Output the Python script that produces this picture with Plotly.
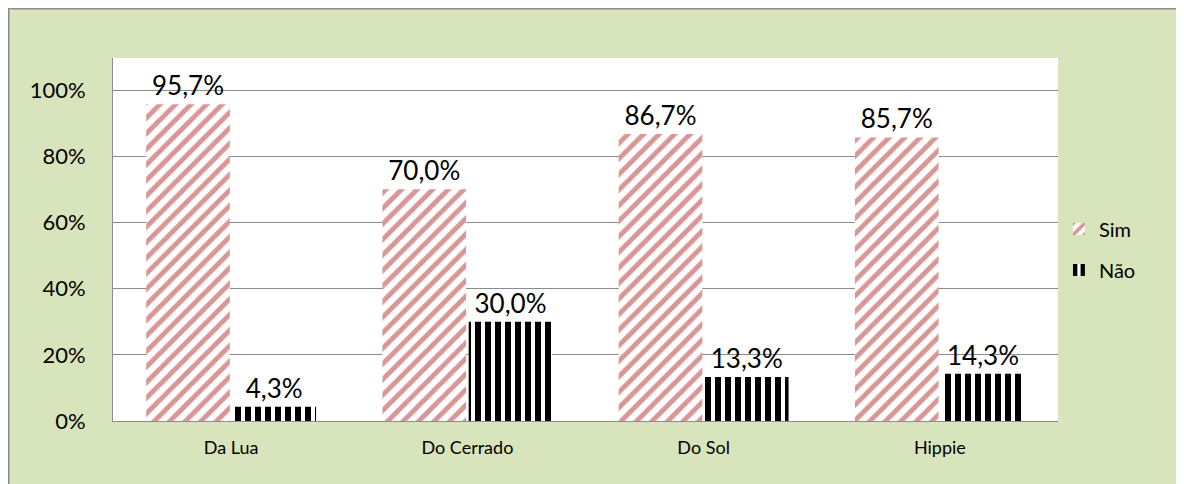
import plotly.graph_objects as go

categories = ["Da Lua", "Do Cerrado", "Do Sol", "Hippie"]
sim_values = [0.957, 0.700, 0.867, 0.857]
nao_values = [0.043, 0.300, 0.133, 0.143]
tick_vals = [0, 0.2, 0.4, 0.6, 0.8, 1.0]
tick_text = ["0%", "20%", "40%", "60%", "80%", "100%"]

FONT = "Lato"
GREEN = "#D8E4BC"
PINK = "#D99694"
BORDER = "#8C8C8C"

fig = go.Figure()
fig.add_trace(go.Bar(
    name="Sim", x=categories, y=sim_values, legend="legend",
    marker=dict(color="white",
                pattern=dict(shape="/", fgcolor=PINK, bgcolor="white", size=11, solidity=0.45,
                             fillmode="replace"),
                line=dict(width=0)),
    texttemplate="%{y:.1%}", textposition="outside",
    textfont=dict(size=26, color="black", family=FONT), cliponaxis=False,
))
fig.add_trace(go.Bar(
    name="Não", x=categories, y=nao_values, legend="legend2",
    marker=dict(color="white",
                pattern=dict(shape="|", fgcolor="black", bgcolor="white", size=10, solidity=0.6,
                             fillmode="replace"),
                line=dict(width=0)),
    texttemplate="%{y:.1%}", textposition="outside",
    textfont=dict(size=26, color="black", family=FONT), cliponaxis=False,
))

# page has an 8px body margin; figure placed at (8, 8)
W, H = 1176, 476
L, R, T, B = 105, 126, 50, 63
pw, ph = W - L - R, H - T - B

def py(page_y):
    return (H - B - (page_y - 8)) / ph

legend_common = dict(x=1.001, xanchor="left", yanchor="middle",
                     font=dict(size=20, family=FONT, color="black"),
                     bgcolor="rgba(0,0,0,0)", itemwidth=30)

fig.update_layout(
    width=W, height=H,
    margin=dict(l=L, r=R, t=T, b=B, pad=0, autoexpand=False),
    paper_bgcolor=GREEN, plot_bgcolor="white",
    separators=",.",
    barmode="group", bargap=0.27, bargroupgap=0.03,
    font=dict(family=FONT, color="black"),
    showlegend=True,
    legend=dict(y=py(229), **legend_common),
    legend2=dict(y=py(270), **legend_common),
    shapes=[
        dict(type="line", xref="paper", yref="paper", x0=-L / pw, x1=-L / pw, y0=-B / ph,
             y1=(ph + T) / ph, line=dict(color=BORDER, width=3), layer="below"),
        dict(type="line", xref="paper", yref="paper", x0=-L / pw, x1=(pw + R) / pw,
             y0=(ph + T) / ph, y1=(ph + T) / ph, line=dict(color=BORDER, width=3), layer="below"),
    ],
)
fig.update_yaxes(range=[0, 1.097], tickvals=tick_vals, ticktext=tick_text,
                 showgrid=True, gridcolor=BORDER, gridwidth=1,
                 showline=True, linecolor=BORDER, linewidth=1,
                 zeroline=False, ticks="", ticklabelstandoff=22, automargin=False,
                 tickfont=dict(size=22, family=FONT, color="black"))
fig.update_xaxes(showline=True, linecolor=BORDER, linewidth=1, ticks="", automargin=False,
                 ticklabelstandoff=10,
                 tickfont=dict(size=18, family=FONT, color="black"))

fig.write_html("out.html", post_script="document.documentElement.style.overflow='hidden';"
                                       "document.body.style.overflow='hidden';")
